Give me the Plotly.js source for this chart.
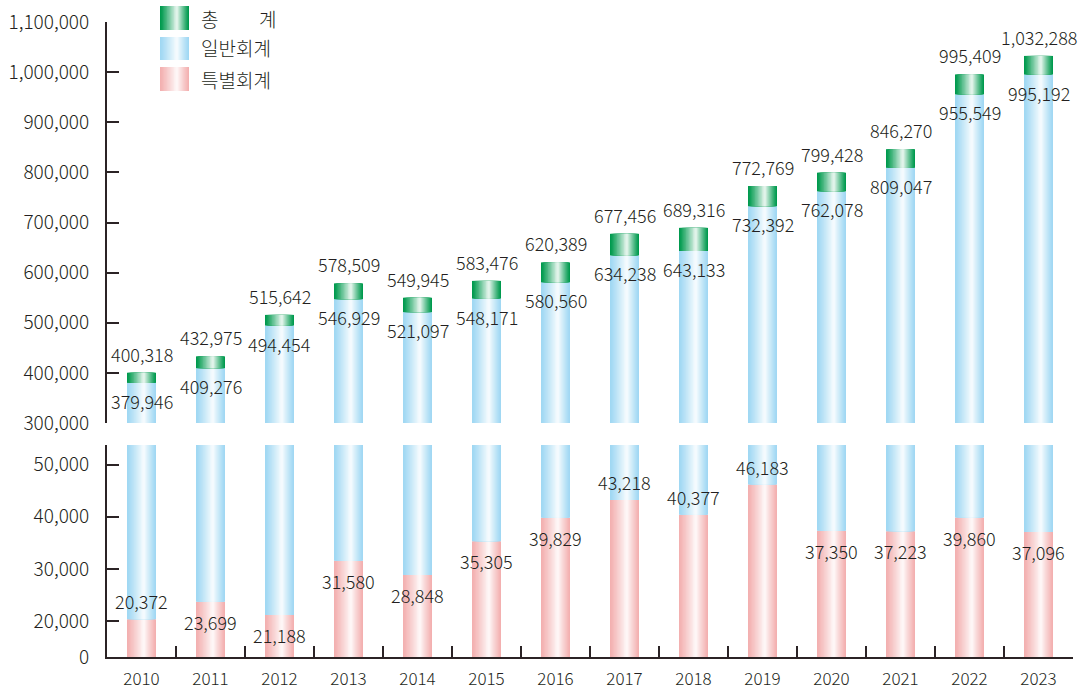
<!DOCTYPE html>
<html><head><meta charset="utf-8">
<script src="https://cdn.plot.ly/plotly-3.0.1.min.js"></script>
<style>html,body{margin:0;padding:0;background:#fff}#chart{width:1078px;height:691px}</style>
</head><body><div id="chart"></div>
<script>
const years = ['2010','2011','2012','2013','2014','2015','2016','2017','2018','2019','2020','2021','2022','2023'];
const totalVals = [400318,432975,515642,578509,549945,583476,620389,677456,689316,772769,799428,846270,995409,1032288];
const generalVals = [379946,409276,494454,546929,521097,548171,580560,634238,643133,732392,762078,809047,955549,995192];
const specialVals = [20372,23699,21188,31580,28848,35305,39829,43218,40377,46183,37350,37223,39860,37096];
const legendNames = ['총','일반회계','특별회계'];
const upperTicks = [300000,400000,500000,600000,700000,800000,900000,1000000,1100000];
const lowerTicks = [20000,30000,40000,50000];
// label placement for special-account values (style only)
const specialLabelAbove = [true,false,false,false,false,false,false,true,true,true,false,false,false,false];

const FONT = '"Noto Sans CJK KR","Noto Sans",sans-serif';
const TXT = '#231f20';
const GREEN = [0,154,78], BLUE = [160,216,243], PINK = [243,176,176];
const N = 12, BW = 0.42, PEAK = 0.58;
const LOWER_MIN = 13117, LOWER_MAX = 53770;

function mix(c, t){
  const r = c.map(v => Math.round(v + (255 - v) * t));
  return `rgb(${r[0]},${r[1]},${r[2]})`;
}
function gradBars(ys, bases, col, yaxis){
  const out = [];
  for (let i = 0; i < N; i++){
    const t = i / N;
    const left = -BW/2 + t * PEAK * BW;
    const right = BW/2 - t * (1 - PEAK) * BW;
    out.push({
      type:'bar', x: years, y: ys, base: bases, yaxis: yaxis, xaxis:'x',
      width: right - left, offset: left,
      marker:{color: mix(col, Math.pow(t,1.1)*0.97), line:{width:0}},
      hoverinfo:'skip', showlegend:false
    });
  }
  return out;
}
const zeros = years.map(() => 0);
const greenH = totalVals.map((v,i) => v - generalVals[i]);
let traces = [];
traces = traces.concat(gradBars(generalVals, zeros, BLUE, 'y'));
traces = traces.concat(gradBars(greenH, generalVals, GREEN, 'y'));
traces = traces.concat(gradBars(specialVals, zeros, PINK, 'y2'));
traces = traces.concat(gradBars(generalVals, specialVals, BLUE, 'y2'));

const fmt = v => v.toLocaleString('en-US');
const LF = {family:FONT,size:18,color:TXT,weight:300};
const ann = [];
years.forEach((yr,i) => {
  ann.push({x: i, y: totalVals[i], xref:'x', yref:'y', text: fmt(totalVals[i]), showarrow:false,
    yanchor:'bottom', yshift:4, font:LF});
  ann.push({x: i, y: generalVals[i], xref:'x', yref:'y', text: fmt(generalVals[i]), showarrow:false,
    yanchor:'top', yshift:-3, font:LF});
  ann.push({x: i, y: specialVals[i], xref:'x', yref:'y2', text: fmt(specialVals[i]), showarrow:false,
    yanchor: specialLabelAbove[i] ? 'bottom' : 'top', yshift: specialLabelAbove[i] ? 3 : -5, font:LF});
});

const W = 1078, H = 691, ML = 107, MR = 5, MT = 22, MB = 34;
const PW = W - ML - MR, PH = H - MT - MB;
const px = x => (x - ML) / PW, py = y => (H - MB - y) / PH;
const shapes = [];
const legRows = [[6,30,GREEN],[37,60,BLUE],[67,91,PINK]];
legRows.forEach(([y0,y1,col]) => {
  const L = 160, R = 189, P = L + PEAK*(R-L);
  for (let i = 0; i < N; i++){
    const t = i / N;
    shapes.push({type:'rect', xref:'paper', yref:'paper', layer:'above',
      x0: px(L + t*(P-L)), x1: px(R - t*(R-P)), y0: py(y1), y1: py(y0),
      fillcolor: mix(col, Math.pow(t,1.1)*0.97), line:{width:0}});
  }
});
const GF = {family:FONT,size:19,color:TXT,weight:300};
ann.push({xref:'paper', yref:'paper', x: px(199), y: py(18), xanchor:'left', yanchor:'middle', text: legendNames[0], showarrow:false, font:GF});
ann.push({xref:'paper', yref:'paper', x: px(278), y: py(18), xanchor:'right', yanchor:'middle', text: '계', showarrow:false, font:GF});
ann.push({xref:'paper', yref:'paper', x: px(199), y: py(48), xanchor:'left', yanchor:'middle', text: legendNames[1], showarrow:false, font:GF});
ann.push({xref:'paper', yref:'paper', x: px(199), y: py(79), xanchor:'left', yanchor:'middle', text: legendNames[2], showarrow:false, font:GF});

const axCommon = {showline:true, linecolor:'#2b2325', linewidth:2, ticks:'inside', ticklen:12, tickwidth:2,
  tickcolor:'#2b2325', showgrid:false, zeroline:false, tickfont:{family:FONT,size:19,color:TXT,weight:300}, ticklabelstandoff:12, fixedrange:true};

const layout = {
  width: W, height: H, margin:{l:ML, r:MR, t:MT, b:MB, pad:0},
  paper_bgcolor:'#fff', plot_bgcolor:'#fff', barmode:'overlay', showlegend:false,
  xaxis: {type:'category', anchor:'y2', showline:true, linecolor:'#2b2325', linewidth:2, ticks:'inside',
    ticklen:11, tickwidth:2, tickcolor:'#2b2325', tickson:'boundaries', showgrid:false, range:[-0.5,13.5],
    tickfont:{family:FONT,size:17,color:TXT,weight:300}, ticklabelstandoff:6, fixedrange:true},
  yaxis: Object.assign({}, axCommon, {domain:[(H-MB-423)/PH, 1], range:[300000,1100000],
    tickvals: upperTicks, ticktext: upperTicks.map(fmt)}),
  yaxis2: Object.assign({}, axCommon, {domain:[0,(H-MB-445)/PH], range:[LOWER_MIN,LOWER_MAX],
    tickvals: [LOWER_MIN].concat(lowerTicks), ticktext: ['0'].concat(lowerTicks.map(fmt))}),
  annotations: ann, shapes: shapes
};
Plotly.newPlot('chart', traces, layout, {displayModeBar:false, staticPlot:true});
</script></body></html>
